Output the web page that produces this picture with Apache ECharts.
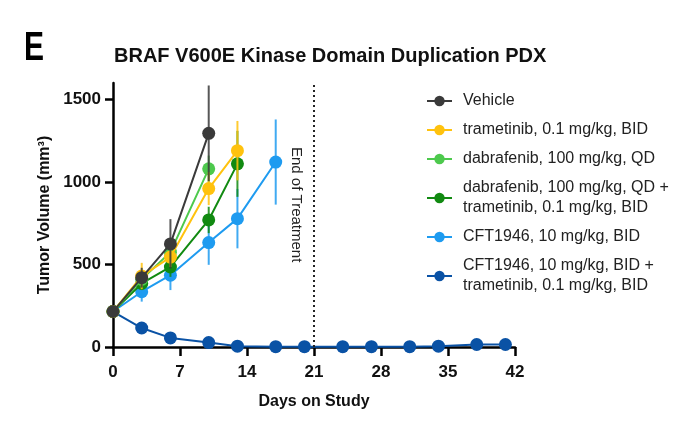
<!DOCTYPE html>
<html><head><meta charset="utf-8">
<script src="https://cdn.jsdelivr.net/npm/echarts@6/dist/echarts.min.js"></script>
<style>html,body{margin:0;padding:0;background:#fff}#c{width:700px;height:423px}</style>
</head><body><div id="c"></div>
<script>
// ---- data ----
const xTicks = [0, 7, 14, 21, 28, 35, 42];
const yTicks = [0, 500, 1000, 1500];
const seriesNames = [
  'Vehicle',
  'trametinib, 0.1 mg/kg, BID',
  'dabrafenib, 100 mg/kg, QD',
  'dabrafenib, 100 mg/kg, QD +\ntrametinib, 0.1 mg/kg, BID',
  'CFT1946, 10 mg/kg, BID',
  'CFT1946, 10 mg/kg, BID +\ntrametinib, 0.1 mg/kg, BID'
];
const vehicleDays = [0, 3, 6, 10];
const vehicleVals = [215, 420, 625, 1295];
const vehicleErr  = [0, 60, 150, 290];
const tramDays = [0, 3, 6, 10, 13];
const tramVals = [215, 430, 545, 960, 1190];
const tramErr  = [0, 80, 60, 100, 180];
const dabDays = [0, 3, 6, 10];
const dabVals = [215, 410, 575, 1080];
const dabErr  = [0, 50, 70, 80];
const dabTramDays = [0, 3, 6, 10, 13];
const dabTramVals = [215, 385, 485, 770, 1110];
const dabTramErr  = [0, 40, 60, 80, 200];
const cftDays = [0, 3, 6, 10, 13, 17];
const cftVals = [215, 335, 435, 633, 778, 1121];
const cftErr  = [0, 60, 90, 135, 180, 258];
const cftTramDays = [0, 3, 6, 10, 13, 17, 20, 24, 27, 31, 34, 38, 41];
const cftTramVals = [215, 115, 55, 27, 5, 2, 2, 2, 2, 2, 5, 15, 15];
const cftTramErr  = [0, 10, 8, 5, 3, 2, 2, 2, 2, 2, 3, 6, 6];
const endOfTreatmentDay = 21;

const colors = ['#3a3a3a', '#FFC20E', '#4DC94D', '#118A11', '#1E9BF0', '#0A52A5'];
const groups = [
  [vehicleDays, vehicleVals, vehicleErr],
  [tramDays, tramVals, tramErr],
  [dabDays, dabVals, dabErr],
  [dabTramDays, dabTramVals, dabTramErr],
  [cftDays, cftVals, cftErr],
  [cftTramDays, cftTramVals, cftTramErr]
];
const FONT = 'Liberation Sans, Arial, sans-serif';

const chart = echarts.init(document.getElementById('c'), null, {renderer: 'canvas'});
const series = [];
// draw order: dark blue bottom ... vehicle on top
const order = [5, 4, 3, 2, 1, 0];
order.forEach(function (i, rank) {
  const [d, v, e] = groups[i];
  series.push({
    type: 'custom', name: 'err' + i, silent: true, z: 2 + rank * 2,
    data: d.map((x, k) => [x, v[k] - e[k], v[k] + e[k]]),
    renderItem: function (params, api) {
      const p1 = api.coord([api.value(0), api.value(1)]);
      const p2 = api.coord([api.value(0), api.value(2)]);
      return {type: 'line', shape: {x1: p1[0], y1: p1[1], x2: p2[0], y2: p2[1]},
        style: {stroke: colors[i], lineWidth: 2, opacity: 0.85}};
    }
  });
  series.push({
    type: 'line', name: seriesNames[i], z: 3 + rank * 2,
    data: d.map((x, k) => [x, v[k]]),
    symbol: 'circle', symbolSize: 13,
    color: colors[i],
    lineStyle: {color: colors[i], width: 2},
    itemStyle: {color: colors[i]},
    markLine: i === 5 ? {
      silent: true, symbol: 'none', label: {show: false},
      lineStyle: {color: '#222', type: [2, 3], width: 2},
      data: [{xAxis: endOfTreatmentDay}]
    } : undefined
  });
});

chart.setOption({
  animation: false,
  grid: {left: 113, right: 185, top: 83, bottom: 76},
  title: [{
    text: 'BRAF V600E Kinase Domain Duplication PDX', left: 109, top: 41,
    textStyle: {fontFamily: FONT, fontSize: 20, fontWeight: 'bold', color: '#111'}
  }],
  legend: {
    orient: 'vertical', left: 421, top: 86, itemGap: 9,
    itemWidth: 25, itemHeight: 13,
    data: seriesNames,
    textStyle: {fontFamily: FONT, fontSize: 16, color: '#222', lineHeight: 20, padding: [0, 0, 0, 6]}
  },
  xAxis: {
    type: 'value', min: 0, max: 42, interval: 7,
    name: 'Days on Study', nameLocation: 'middle', nameGap: 47,
    nameTextStyle: {fontFamily: FONT, fontSize: 16, fontWeight: 'bold', color: '#111'},
    axisLine: {show: true, onZero: false, lineStyle: {color: '#000', width: 2.5}},
    axisTick: {show: true, length: 9, lineStyle: {color: '#000', width: 2.5}},
    axisLabel: {fontFamily: FONT, fontSize: 17, fontWeight: 'bold', color: '#111', margin: 17,
      customValues: xTicks},
    splitLine: {show: false}
  },
  yAxis: {
    type: 'value', min: 0, max: 1600,
    name: 'Tumor Volume (mm³)', nameLocation: 'middle', nameGap: 57,
    nameTextStyle: {fontFamily: FONT, fontSize: 16, fontWeight: 'bold', color: '#111'},
    axisLine: {show: true, lineStyle: {color: '#000', width: 2.5}},
    axisTick: {show: true, length: 8, lineStyle: {color: '#000', width: 2.5}, customValues: yTicks},
    axisLabel: {fontFamily: FONT, fontSize: 17, fontWeight: 'bold', color: '#111', margin: 12,
      customValues: yTicks, formatter: v => String(v)},
    splitLine: {show: false}
  },
  graphic: [{
    type: 'text', x: 304, y: 147, rotation: -Math.PI / 2,
    style: {text: 'End of Treatment', font: '15px ' + FONT, fill: '#222'}
  }, {
    type: 'text', x: 24, y: 48.5, scaleX: 0.75,
    style: {text: 'E', font: 'bold 40px ' + FONT, fill: '#000', verticalAlign: 'middle'}
  }],
  series: series
});
</script></body></html>
